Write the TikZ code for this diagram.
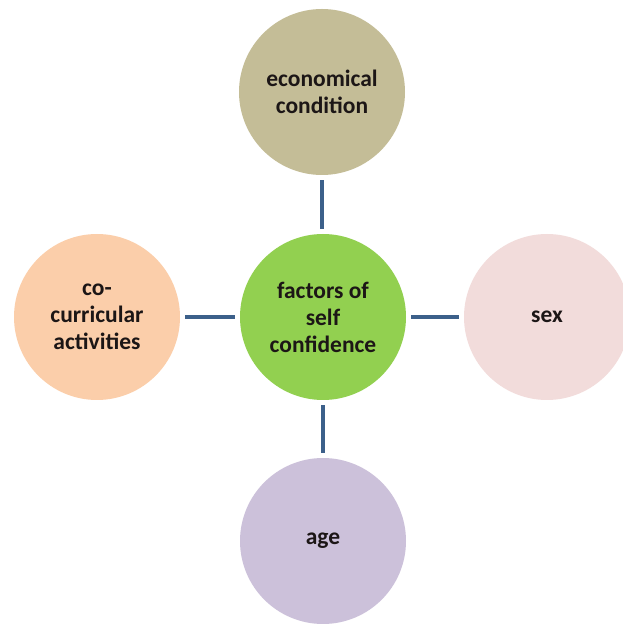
\documentclass[tikz,border=0pt]{standalone}
\usepackage{fontspec}
\setmainfont{Carlito}
\definecolor{tanc}{RGB}{196,189,151}
\definecolor{greenc}{RGB}{146,208,80}
\definecolor{peachc}{RGB}{251,206,170}
\definecolor{pinkc}{RGB}{242,220,219}
\definecolor{lavc}{RGB}{204,193,218}
\definecolor{linec}{RGB}{60,96,138}
\definecolor{textc}{RGB}{28,22,22}
\begin{document}
\begin{tikzpicture}[x=1pt,y=1pt,
  bubble/.style={circle,minimum size=166pt,inner sep=0pt,align=center,
    font=\bfseries\fontsize{23.5}{27}\selectfont,text=textc},
  link/.style={draw=linec,line width=4.5pt,shorten <=5pt,shorten >=5pt}]
\useasboundingbox (0,0) rectangle (622,624);
\node[bubble,fill=greenc] (ctr) at (323,307) {factors of\\self\\confidence};
\node[bubble,fill=tanc] (top) at (322,532) {economical\\condition};
\node[bubble,fill=peachc] (lft) at (97,307) {co-\\curricular\\activities};
\node[bubble,fill=pinkc] (rgt) at (547,307) {sex};
\node[bubble,fill=lavc] (bot) at (323,83) {age};
\draw[link] (top.south) -- (top.south |- ctr.north);
\draw[link] (lft.east) -- (ctr.west);
\draw[link] (ctr.east) -- (rgt.west);
\draw[link] (bot.north) -- (ctr.south);
\end{tikzpicture}
\end{document}
